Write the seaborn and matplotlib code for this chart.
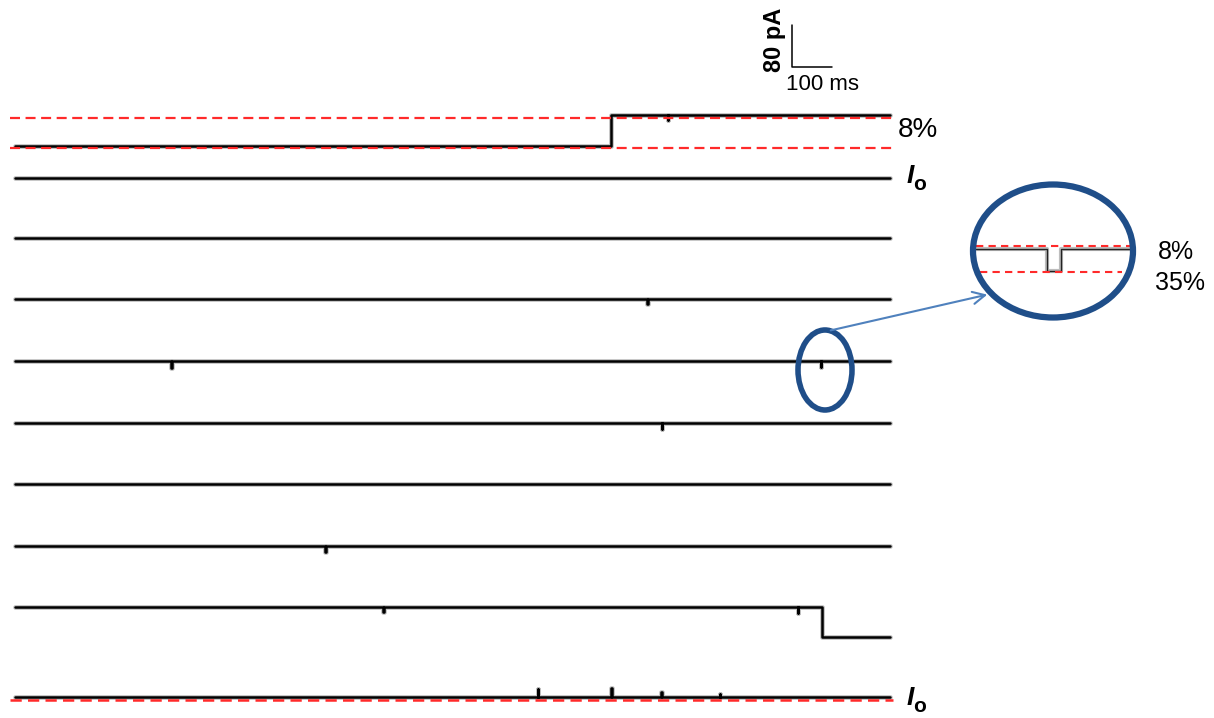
import numpy as np
import pandas as pd
import seaborn as sns
import matplotlib.pyplot as plt
from matplotlib.patches import Ellipse, FancyArrowPatch

# ---------------- data ----------------
sweep_duration_ms = 2187
sweep_ids = list(range(1, 11))
# one conductance step per sweep (time ms, amplitude pA); None = no step
step_times_ms = [1490, None, None, None, None, None, None, None, 2017, None]
step_amps_pA = [59, 0, 0, 0, 0, 0, 0, 0, -57, 0]
# brief events (time ms, amplitude pA)
spike_times_ms = [[1632], [], [], [1580], [390, 2014], [1617], [], [775], [920, 1957],
                  [1307, 1490, 1615, 1762]]
spike_amps_pA = [[-10], [], [], [-9], [-13, -11], [-11], [], [-11], [-10, -12],
                 [15, 17, 9, 5]]
spike_width_ms = 1.5
# reference (dashed) levels, pA relative to the sweep's initial level
top_sweep_levels_pA = [-4, 53]
bottom_sweep_levels_pA = [-6]
level_labels = ["8%", "I", "o"]
# zoomed inset of sweep 5
inset_window_ms = [1985, 2047]
inset_event_ms = [2013.5, 2019]
inset_event_pA = -11
inset_levels_pA = [1.5, -11.5]
inset_labels = ["8%", "35%"]
scale_bar_ms = 100
scale_bar_pA = 80

# ---------------- layout ----------------
W, H = 1214, 718
PX_PER_MS = 0.4
PX_PER_PA = 0.525
X0 = 15
row_px = [146, 178, 238, 299, 361, 423, 484, 546, 607, 697]


def fx(px):
    return px / W


def fy(py):
    return 1 - py / H


def pa_of_px(py):
    return (H - py) / PX_PER_PA


def build_trace(step_t, step_a, sp_t, sp_a, w):
    events = []
    if step_t is not None:
        events.append((step_t, "step", step_a))
    for t, a in zip(sp_t, sp_a):
        events.append((t, "spike", a))
    events.sort(key=lambda e: e[0])
    xs, ys = [0.0], [0.0]
    cur = 0.0
    for t, kind, a in events:
        if kind == "step":
            xs += [t, t]
            ys += [cur, cur + a]
            cur += a
        else:
            xs += [t, t, t + w, t + w]
            ys += [cur, cur + a, cur + a, cur]
    xs.append(sweep_duration_ms)
    ys.append(cur)
    return np.array(xs), np.array(ys)


sns.set_theme(style="white")
plt.rcParams["font.family"] = ["Liberation Sans", "DejaVu Sans"]
plt.rcParams["text.color"] = "black"

fig = plt.figure(figsize=(W / 100, H / 100), dpi=100)
ax = fig.add_axes([0, 0, 1, 1])
ax.set_xlim(-X0 / PX_PER_MS, (W - X0) / PX_PER_MS)
ax.set_ylim(0, H / PX_PER_PA)
ax.axis("off")

frames = []
for i, sid in enumerate(sweep_ids):
    t, a = build_trace(step_times_ms[i], step_amps_pA[i], spike_times_ms[i],
                       spike_amps_pA[i], spike_width_ms)
    frames.append(pd.DataFrame({"sweep": sid, "t": t, "i": a + pa_of_px(row_px[i])}))
df = pd.concat(frames, ignore_index=True)

for sid, g in df.groupby("sweep"):
    sns.lineplot(data=g, x="t", y="i", estimator=None, sort=False, ax=ax,
                 color="black", lw=3.4, alpha=0.25, zorder=3)
    sns.lineplot(data=g, x="t", y="i", estimator=None, sort=False, ax=ax,
                 color="black", lw=1.8, zorder=4)

red = "#ff2a2a"
dash_x = [-12, 2195]
for lv in top_sweep_levels_pA:
    y = lv + pa_of_px(row_px[0])
    ax.plot(dash_x, [y, y], color=red, lw=1.6, dashes=(4.5, 2.5), zorder=5)
for lv in bottom_sweep_levels_pA:
    y = lv + pa_of_px(row_px[-1])
    ax.plot(dash_x, [y, y], color=red, lw=1.8, dashes=(4.5, 2.5), zorder=5)
ax.set_xlabel("")
ax.set_ylabel("")

# scale bar
sb_x0 = (792 - X0) / PX_PER_MS
sb_y0 = pa_of_px(67)
ax.plot([sb_x0, sb_x0, sb_x0 + scale_bar_ms], [sb_y0 + scale_bar_pA, sb_y0, sb_y0],
        color="black", lw=1.1, zorder=6)
fig.text(fx(774), fy(40), f"{scale_bar_pA} pA", rotation=90, ha="center", va="center",
         fontsize=17, fontweight="bold")
fig.text(fx(823), fy(85), f"{scale_bar_ms} ms", ha="center", va="center", fontsize=16)

# labels
fig.text(fx(918), fy(130), level_labels[0], ha="center", va="center", fontsize=20)
for py in [178, 700]:
    fig.text(fx(910), fy(py - 2), level_labels[1], ha="center", va="center", fontsize=19,
             fontweight="bold", style="italic")
    fig.text(fx(920), fy(py + 7), level_labels[2], ha="center", va="center", fontsize=15,
             fontweight="bold")

# inset
iax = fig.add_axes([fx(976), fy(290), fx(1131) - fx(976), (290 - 230) / H])
iax.set_xlim(*inset_window_ms)
iax.set_ylim(-(290 - 249) / 2, (249 - 230) / 2)
iax.axis("off")
iax.patch.set_alpha(0)
it = np.array([inset_window_ms[0], inset_event_ms[0], inset_event_ms[0],
               inset_event_ms[1], inset_event_ms[1], inset_window_ms[1]])
ia = np.array([0, 0, inset_event_pA, inset_event_pA, 0, 0])
idf = pd.DataFrame({"t": it, "i": ia})
sns.lineplot(data=idf, x="t", y="i", estimator=None, sort=False, ax=iax,
             color="#444444", lw=3.0, alpha=0.35)
sns.lineplot(data=idf, x="t", y="i", estimator=None, sort=False, ax=iax,
             color="#222222", lw=1.0)
iax.plot(inset_window_ms, [inset_levels_pA[0]] * 2, color=red, lw=1.5, dashes=(3.5, 2.5))
iax.plot([1986.6, 2043.4], [inset_levels_pA[1]] * 2, color=red, lw=1.5, dashes=(3.5, 2.5))
iax.set_xlabel("")
iax.set_ylabel("")
fig.text(fx(1176), fy(252), inset_labels[0], ha="center", va="center", fontsize=18)
fig.text(fx(1180), fy(283), inset_labels[1], ha="center", va="center", fontsize=18)

ring = "#1f4e89"
fig.patches.append(Ellipse((fx(1053), fy(251)), 160 / W, 133 / H, transform=fig.transFigure,
                           fill=False, ec=ring, lw=4.5, zorder=10))
fig.patches.append(Ellipse((fx(825), fy(370)), 54 / W, 80 / H, transform=fig.transFigure,
                           fill=False, ec=ring, lw=4.0, zorder=10))
arr = FancyArrowPatch((fx(828), fy(331)), (fx(990), fy(294)), transform=fig.transFigure,
                      arrowstyle="->", mutation_scale=22, color="#4f81bd", lw=1.5, zorder=11)
fig.patches.append(arr)

fig.savefig("out.png", dpi=100)
